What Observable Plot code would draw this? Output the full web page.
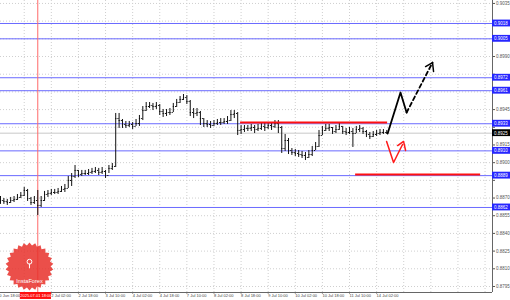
<!DOCTYPE html>
<html><head><meta charset="utf-8">
<script src="https://cdn.jsdelivr.net/npm/d3@7"></script>
<script src="https://cdn.jsdelivr.net/npm/@observablehq/plot@0.6"></script>
<style>body{margin:0;background:#fff;} svg{display:block}</style>
</head><body><div id="chart"></div>
<script>
// time axis: trading hours counted from 30 Jun 18:00, one bar per 2 hours
const barStart = 2, barStep = 2;
const closes = [
0.88679,0.88671,0.88662,0.88679,0.88688,0.88705,0.88722,0.88764,0.88696,0.88662,
0.88679,0.88637,0.88679,0.88730,0.88739,0.88747,0.88747,0.88756,0.88773,0.88781,
0.88849,0.88883,0.88934,0.88900,0.88908,0.88908,0.88917,0.88925,0.88934,0.88917,
0.88925,0.88891,0.88951,0.88968,0.89374,0.89357,0.89324,0.89315,0.89324,0.89307,
0.89332,0.89374,0.89442,0.89476,0.89485,0.89476,0.89485,0.89434,0.89417,0.89425,
0.89425,0.89476,0.89510,0.89536,0.89552,0.89519,0.89425,0.89417,0.89425,0.89374,
0.89332,0.89324,0.89315,0.89332,0.89340,0.89340,0.89349,0.89357,0.89408,0.89417,
0.89273,0.89281,0.89290,0.89290,0.89298,0.89281,0.89290,0.89307,0.89298,0.89315,
0.89307,0.89332,0.89298,0.89120,0.89188,0.89103,0.89086,0.89078,0.89069,0.89061,
0.89044,0.89069,0.89103,0.89137,0.89230,0.89273,0.89290,0.89298,0.89264,0.89281,
0.89307,0.89264,0.89256,0.89264,0.89247,0.89281,0.89290,0.89264,0.89239,0.89222,
0.89239,0.89247,0.89256,0.89256,0.89256];
const highs = [
0.88713,0.88696,0.88688,0.88705,0.88713,0.88730,0.88747,0.88790,0.88773,0.88705,
0.88713,0.88764,0.88713,0.88756,0.88764,0.88773,0.88773,0.88781,0.88798,0.88815,
0.88883,0.88908,0.88976,0.88934,0.88934,0.88934,0.88942,0.88951,0.88959,0.88951,
0.88959,0.88934,0.88976,0.88993,0.89417,0.89417,0.89366,0.89349,0.89349,0.89340,
0.89366,0.89400,0.89476,0.89510,0.89510,0.89502,0.89510,0.89493,0.89451,0.89451,
0.89459,0.89502,0.89536,0.89561,0.89578,0.89569,0.89527,0.89459,0.89459,0.89434,
0.89374,0.89357,0.89349,0.89357,0.89366,0.89374,0.89374,0.89391,0.89442,0.89442,
0.89425,0.89315,0.89315,0.89315,0.89324,0.89315,0.89324,0.89332,0.89332,0.89340,
0.89340,0.89357,0.89357,0.89307,0.89239,0.89205,0.89120,0.89112,0.89103,0.89095,
0.89086,0.89103,0.89137,0.89171,0.89273,0.89307,0.89324,0.89324,0.89298,0.89315,
0.89332,0.89307,0.89290,0.89298,0.89290,0.89307,0.89315,0.89298,0.89273,0.89256,
0.89264,0.89273,0.89281,0.89281,0.89273];
const lows = [
0.88646,0.88646,0.88637,0.88654,0.88662,0.88679,0.88696,0.88713,0.88671,0.88637,
0.88646,0.88552,0.88620,0.88671,0.88705,0.88722,0.88730,0.88730,0.88747,0.88747,
0.88781,0.88798,0.88866,0.88874,0.88883,0.88891,0.88891,0.88900,0.88908,0.88891,
0.88900,0.88866,0.88908,0.88934,0.88959,0.89290,0.89290,0.89290,0.89298,0.89281,
0.89307,0.89307,0.89357,0.89434,0.89459,0.89442,0.89451,0.89400,0.89383,0.89391,
0.89400,0.89425,0.89468,0.89502,0.89527,0.89493,0.89391,0.89374,0.89391,0.89315,
0.89298,0.89298,0.89290,0.89307,0.89315,0.89315,0.89324,0.89324,0.89349,0.89374,
0.89230,0.89239,0.89256,0.89264,0.89264,0.89247,0.89264,0.89273,0.89264,0.89281,
0.89273,0.89290,0.89247,0.89078,0.89095,0.89069,0.89061,0.89052,0.89044,0.89035,
0.89018,0.89035,0.89052,0.89103,0.89129,0.89230,0.89264,0.89264,0.89239,0.89247,
0.89273,0.89239,0.89230,0.89239,0.89129,0.89247,0.89256,0.89239,0.89213,0.89196,
0.89213,0.89222,0.89230,0.89239,0.89239];

// "1 Jul 10:00" sits under the red time box in the reference, so it is not listed
const tickHours = [0,32,48,64,80,96,112,128,144,160,176,192,208,224];
const tickLabels = ["30 Jun 18:00","2 Jul 02:00","2 Jul 18:00","3 Jul 10:00","4 Jul 02:00","4 Jul 18:00","7 Jul 10:00","8 Jul 02:00","8 Jul 18:00","9 Jul 10:00","10 Jul 02:00","10 Jul 18:00","11 Jul 10:00","14 Jul 02:00"];
const gridHours = [16,32,48,64,80,96,112,128,144,160,176,192,208,224,240,256,272,288];
const priceTicks = [0.8795,0.8810,0.8825,0.8840,0.8855,0.8870,0.8885,0.8900,0.8915,0.8930,0.8945,0.8960,0.8975,0.8990,0.9005,0.9020,0.9035];

const blueLevels = [0.9018,0.9005,0.8972,0.8961,0.8933,0.8910,0.8889,0.8862];
const currentPrice = 0.8925;
const redLevels = [{v:0.8934, h1:143.7, h2:230.5}, {v:0.8890, h1:211.6, h2:285.4}];
const markerHour = 24, markerLabel = "2025.07.01 18:00";

// forecast sketch (trading hours, price)
const mainPathH = [230.5, 238.1, 241.7];
const mainPathV = [0.89247, 0.89595, 0.89425];
const dashPathH = [241.7, 257.0];
const dashPathV = [0.89425, 0.89849];
const arrowH = [252.9, 257.0, 257.6];
const arrowV = [0.89815, 0.89849, 0.89773];
const altPathH = [229.9, 234.0, 239.3];
const altPathV = [0.89179, 0.89001, 0.89154];
const altArrowH = [236.4, 239.9, 241.1];
const altArrowV = [0.89145, 0.89180, 0.89103];

const bars = closes.map((c, i) => ({
  h: barStart + i * barStep, c, hi: highs[i], lo: lows[i], o: i ? closes[i - 1] : c
}));
const toPts = (H, V) => H.map((h, i) => ({h, v: V[i]}));
const boxed = blueLevels.concat([currentPrice]);
const labelTicks = priceTicks.filter(t => boxed.every(b => Math.abs(b - t) > 0.00045));

const xMax = 292.4, xBox = 303.4;
const badge = {draw(ctx, size) {
  const R = Math.sqrt(size / Math.PI), r = R * 0.88, n = 26;
  for (let i = 0; i < 2 * n; i++) {
    const a = i * Math.PI / n, rr = i % 2 ? r : R;
    const x = rr * Math.sin(a), y = -rr * Math.cos(a);
    if (i) ctx.lineTo(x, y); else ctx.moveTo(x, y);
  }
  ctx.closePath();
}};

const chart = Plot.plot({
  width: 510, height: 300,
  marginLeft: 0, marginRight: 18, marginTop: 0, marginBottom: 8,
  x: {domain: [2.0, xMax]},
  y: {domain: [0.87899, 0.90375]},
  style: {background: "#fff", fontFamily: "Liberation Sans, Arial, sans-serif", overflow: "visible"},
  marks: [
    Plot.gridX(gridHours, {stroke: "#cfcfcf", strokeOpacity: 1, strokeDasharray: "1,2"}),
    Plot.gridY(priceTicks, {stroke: "#cfcfcf", strokeOpacity: 1, strokeDasharray: "1,2"}),
    Plot.ruleY(blueLevels, {stroke: "#6a6aff", strokeWidth: 1}),
    Plot.ruleY([currentPrice], {stroke: "#c8c8c8", strokeWidth: 1}),
    Plot.ruleX([markerHour], {stroke: "#ff6a6a", strokeWidth: 1}),
    Plot.dot([{h: 19.1, v: 0.88119}], {x: "h", y: "v", r: 24, symbol: badge, fill: "#e8302a", fillOpacity: 0.85, stroke: "none"}),
    Plot.dot([{h: 19.1, v: 0.88160}], {x: "h", y: "v", r: 2.4, fill: "none", stroke: "#fff", strokeWidth: 1}),
    Plot.ruleX([{h: 19.1, v1: 0.88140, v2: 0.88100}], {x: "h", y1: "v1", y2: "v2", stroke: "#fff", strokeWidth: 1}),
    Plot.text([{h: 19.1, v: 0.87998}], {x: "h", y: "v", text: () => "InstaForex", fill: "#fff", fontSize: 5.6}),
    Plot.ruleX(bars, {x: "h", y1: "lo", y2: "hi", stroke: "#111", strokeWidth: 1}),
    Plot.ruleY(bars, {y: "o", x1: d => d.h - 0.7, x2: "h", stroke: "#111", strokeWidth: 1}),
    Plot.ruleY(bars, {y: "c", x1: "h", x2: d => d.h + 0.7, stroke: "#111", strokeWidth: 1}),
    Plot.ruleY(redLevels, {y: "v", x1: "h1", x2: "h2", stroke: "#ff1010", strokeWidth: 2}),
    Plot.line(toPts(mainPathH, mainPathV), {x: "h", y: "v", stroke: "#000", strokeWidth: 1.8}),
    Plot.line(toPts(dashPathH, dashPathV), {x: "h", y: "v", stroke: "#000", strokeWidth: 1.8, strokeDasharray: "4,3"}),
    Plot.line(toPts(arrowH, arrowV), {x: "h", y: "v", stroke: "#000", strokeWidth: 1.5}),
    Plot.line(toPts(altPathH, altPathV), {x: "h", y: "v", stroke: "#ff1a1a", strokeWidth: 1.5}),
    Plot.line(toPts(altArrowH, altArrowV), {x: "h", y: "v", stroke: "#ff1a1a", strokeWidth: 1.5}),
    Plot.axisY({anchor: "right", ticks: priceTicks, tickFormat: () => "", tickSize: 2, label: null, color: "#555"}),
    Plot.axisY({anchor: "right", ticks: labelTicks, tickFormat: d => d.toFixed(4), tickSize: 0, tickPadding: 3.5, fontSize: 4.5, color: "#555", label: null}),
    Plot.axisX({ticks: gridHours.filter(h => h <= 224).concat([0]), tickFormat: () => "", tickSize: 1.5, label: null, color: "#444"}),
    Plot.axisX({ticks: tickHours, tickFormat: d => tickLabels[tickHours.indexOf(d)], textAnchor: "start", tickSize: 0, tickPadding: 1.5, fontSize: 4, color: "#444", label: null}),
    Plot.ruleX([xMax], {stroke: "#666", strokeWidth: 1}),
    Plot.ruleY([0.87899], {stroke: "#666", strokeWidth: 1}),
    Plot.rect([{h: markerHour}], {x1: d => d.h - 10.3, x2: d => d.h + 8.1, y1: 0.87899, y2: 0.87840, fill: "#ff1010"}),
    Plot.text([{h: markerHour}], {x: d => d.h - 1.1, y: 0.87869, text: () => markerLabel, fill: "#fff", fontSize: 4}),
    Plot.rect(blueLevels, {x1: xMax, x2: xBox, y1: d => d - 0.00029, y2: d => d + 0.00029, fill: "#2626ff"}),
    Plot.text(blueLevels, {x: xMax + 0.9, y: d => d, text: d => d.toFixed(4), textAnchor: "start", fill: "#fff", fontSize: 4.5}),
    Plot.rect([currentPrice], {x1: xMax, x2: xBox, y1: d => d - 0.00029, y2: d => d + 0.00029, fill: "#000"}),
    Plot.text([currentPrice], {x: xMax + 0.9, y: d => d, text: d => d.toFixed(4), textAnchor: "start", fill: "#fff", fontSize: 4.5})
  ]
});
document.getElementById("chart").append(chart);
</script>
</body></html>
